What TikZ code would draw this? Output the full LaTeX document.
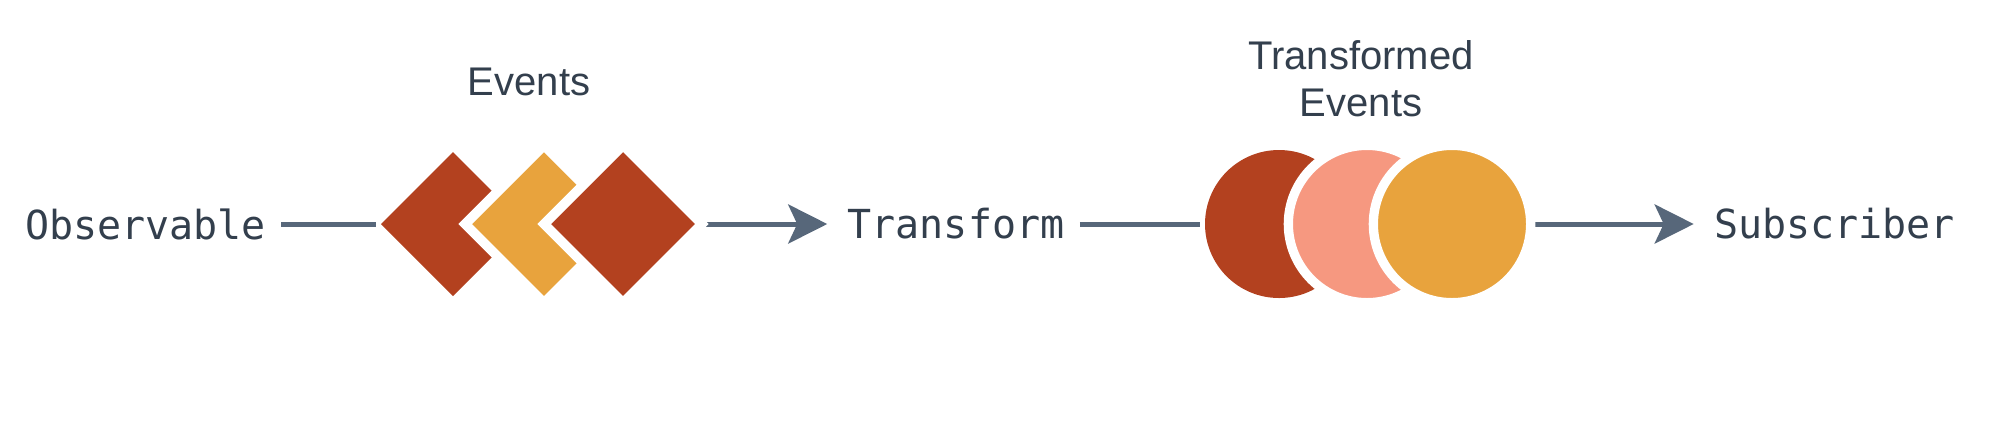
\documentclass[tikz,border=0pt]{standalone}
\usepackage{fontspec}
\setmainfont{Liberation Sans}
\newfontfamily\codefont{DejaVu Sans Mono}
\usetikzlibrary{shapes.geometric, arrows.meta, backgrounds}
\definecolor{evred}{RGB}{179,65,31}
\definecolor{evorange}{RGB}{232,163,61}
\definecolor{evsalmon}{RGB}{246,152,128}
\definecolor{wirecol}{RGB}{87,103,122}
\definecolor{inkcol}{RGB}{51,63,77}
\tikzstyle{wire} = [line width=2.5pt, draw=wirecol, shorten >=2.5pt]
\tikzstyle{arrow} = [wire, -{Stealth[length=19.5pt,width=19.5pt,inset=4.5pt]}]
\tikzstyle{code} = [font=\codefont\fontsize{20pt}{24pt}\selectfont, text=inkcol, inner sep=0pt, inner xsep=7.5pt]
\tikzstyle{caption} = [font=\fontsize{20pt}{23.35pt}\selectfont, text=inkcol, inner sep=0pt, align=center]
\tikzstyle{event} = [diamond, inner sep=0pt, outer sep=0pt, minimum size=72pt]
\tikzstyle{tevent} = [circle, inner sep=0pt, outer sep=0pt, minimum size=74pt]
\tikzstyle{egap} = [draw=white, line width=4.85pt, minimum size=78.86pt]
\tikzstyle{cgap} = [draw=white, line width=4.65pt, minimum size=78.65pt]

\begin{document}
\begin{tikzpicture}[x=0.5pt, y=-0.5pt]

\useasboundingbox (0,0) rectangle (2000,425);

% labels
\node[code] (observable) at (145.5,224) {Observable};
\node[code] (transform) at (956,224) {Transform};
\node[code] (subscriber) at (1834.5,224) {Subscriber};
\node[caption, anchor=base] (events) at (529,95) {Events};
\node[caption] (tevents) at (1361,79) {Transformed\\Events};

% events
\node[event, fill=evred] (e1) at (453,224) {};
\node[event, egap, fill=evorange] (e2) at (544,224) {};
\node[event, egap, fill=evred] (e3) at (623,224) {};

% transformed events
\node[tevent, fill=evred] (t1) at (1279,224) {};
\node[tevent, cgap, fill=evsalmon] (t2) at (1367,224) {};
\node[tevent, cgap, fill=evorange] (t3) at (1452,224) {};

\begin{pgfonlayer}{background}
\fill[white] (0,0) rectangle (2000,425);
\draw[wire] (observable) -- (e1);
\draw[arrow] (e3) -- (transform);
\draw[wire] (transform) -- (t1);
\draw[arrow] (t3) -- (subscriber);
\end{pgfonlayer}

\end{tikzpicture}
\end{document}
